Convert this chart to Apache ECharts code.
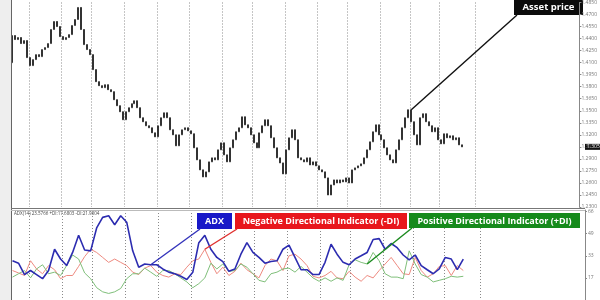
<!DOCTYPE html>
<html><head><meta charset="utf-8">
<script src="https://cdn.jsdelivr.net/npm/echarts@6/dist/echarts.min.js"></script>
<style>html,body{margin:0;padding:0;background:#fff}#c{width:600px;height:300px}</style>
</head><body><div id="c"></div>
<script>
// ---- data ----
const barCount = 191;            // visible bar slots on the time axis
const firstOpen = 1.4100;
const closes = [
1.4438,1.4388,1.4413,1.4338,1.4375,1.4163,1.4063,1.4138,1.4200,1.4175,
1.4263,1.4288,1.4338,1.4513,1.4613,1.4550,1.4425,1.4388,1.4413,1.4450,
1.4563,1.4638,1.4788,1.4513,1.4325,1.4263,1.4200,1.4013,1.3863,1.3813,
1.3788,1.3825,1.3763,1.3738,1.3638,1.3563,1.3488,1.3388,1.3488,1.3538,
1.3588,1.3625,1.3538,1.3413,1.3363,1.3313,1.3288,1.3225,1.3175,1.3313,
1.3413,1.3475,1.3413,1.3263,1.3200,1.3063,1.3200,1.3263,1.3288,1.3250,
1.3213,1.3038,1.2888,1.2763,1.2675,1.2738,1.2863,1.2913,1.2888,1.3013,
1.3100,1.2950,1.2863,1.3038,1.3138,1.3238,1.3288,1.3425,1.3325,1.3288,
1.3200,1.3100,1.3038,1.3225,1.3313,1.3388,1.3313,1.3163,1.3038,1.2913,
1.2850,1.2713,1.3013,1.3163,1.3263,1.3138,1.2913,1.2888,1.2863,1.2913,
1.2825,1.2863,1.2813,1.2763,1.2738,1.2663,1.2450,1.2575,1.2638,1.2600,
1.2638,1.2613,1.2663,1.2600,1.2763,1.2788,1.2813,1.2838,1.2913,1.3013,
1.3113,1.3238,1.3325,1.3200,1.3138,1.3038,1.2950,1.2888,1.2850,1.3013,
1.3138,1.3288,1.3413,1.3513,1.3363,1.3200,1.3075,1.3413,1.3463,1.3363,
1.3313,1.3238,1.3288,1.3138,1.3088,1.3213,1.3163,1.3188,1.3138,1.3163,
1.3075,1.3050];
// indicator values sampled every 2 bars
const adx = [29.3,27.5,19.0,22.0,19.0,15.9,22.0,37.9,30.6,25.7,
35.5,48.3,37.3,36.7,53.8,61.7,62.9,56.2,62.9,58.1,
36.7,24.5,26.9,26.3,26.3,23.2,20.8,19.6,17.7,15.3,
20.8,42.8,48.3,37.9,31.8,28.7,21.4,23.2,34.2,42.8,
35.5,31.8,27.5,28.7,29.3,37.9,41.0,31.8,22.6,22.6,
19.0,19.0,28.1,41.6,34.2,28.1,26.3,30.6,33.0,35.5,
45.2,45.8,37.9,42.2,39.1,33.6,30.0,33.6,25.7,22.6,
19.6,23.2,31.8,30.6,22.6,30.6];
const minusDI = [22.0,20.2,18.3,29.3,23.2,19.6,25.7,22.6,15.9,18.3,
18.3,25.1,32.4,37.9,35.5,31.8,28.1,30.6,28.1,25.7,
20.8,19.0,23.8,25.7,20.8,18.3,17.1,19.6,19.0,24.5,
29.3,30.6,37.9,28.1,19.6,24.5,18.3,21.4,27.5,22.6,
19.6,16.5,25.7,30.6,29.3,22.0,33.0,34.2,30.6,25.7,
17.7,16.5,18.3,21.4,16.5,15.9,21.4,17.1,14.0,18.3,
16.5,22.0,26.9,31.8,25.7,19.6,19.0,31.8,22.0,17.1,
19.6,25.1,25.7,18.3,25.7,22.0];
const plusDI = [17.1,19.6,22.0,16.5,23.2,26.3,19.6,20.8,18.3,25.7,
33.6,30.6,20.2,15.9,9.2,6.1,4.9,6.1,8.6,15.9,
19.6,19.6,23.8,20.8,17.7,22.0,22.0,19.6,16.5,13.5,
9.2,12.2,16.5,27.5,23.2,26.9,21.4,22.0,26.9,24.5,
19.6,14.7,13.5,19.6,20.8,23.2,23.8,20.8,25.1,20.8,
16.5,14.0,16.5,14.0,16.5,14.7,26.3,30.0,28.1,26.9,
35.5,29.3,19.6,17.1,17.1,15.9,36.7,26.9,19.0,17.1,
13.5,14.7,15.9,17.7,17.1,17.7];
const sampleStep = 2;
const separatorBars = [6,17,27,38,49,60,71,81,92,103,113,124,134,144,156];
const adxTickLabels = ['17','33','49','66'];
const adxTickStep = 16.5;
const headerText = 'ADX(14) 23.5766 +DI:17.6803 -DI:21.9804';
const labels = {asset:'Asset price', adx:'ADX', neg:'Negative Directional Indicator (-DI)', pos:'Positive Directional Indicator (+DI)'};

// ---- build ----
const categories = Array.from({length: barCount}, (_, i) => String(i));
const ohlc = closes.map((c, i) => {
  const o = i === 0 ? firstOpen : closes[i-1];
  return [o, c, Math.min(o, c), Math.max(o, c)];
});
const toPairs = arr => arr.map((v, k) => [k * sampleStep, v]);

const chart = echarts.init(document.getElementById('c'), null, {renderer: 'canvas'});
const sepLine = {show: true, interval: (i) => separatorBars.includes(i), lineStyle: {color: '#8a8a8a', type: [1, 2], width: 1}};
const font = '"Open Sans", "DejaVu Sans", sans-serif';

chart.setOption({
  animation: false,
  backgroundColor: '#fff',
  grid: [
    {left: 11, right: 15, top: 2, height: 205},
    {left: 11, right: 15, top: 210, height: 110}
  ],
  xAxis: [
    {type: 'category', gridIndex: 0, data: categories, boundaryGap: true,
     axisLine: {show: false}, axisTick: {show: false}, axisLabel: {show: false}, splitLine: sepLine},
    {type: 'category', gridIndex: 1, data: categories, boundaryGap: true,
     axisLine: {show: false}, axisTick: {show: false}, axisLabel: {show: false}, splitLine: sepLine}
  ],
  yAxis: [
    {type: 'value', gridIndex: 0, position: 'right', min: 1.23, max: 1.485, interval: 0.015,
     axisLine: {show: true, lineStyle: {color: '#888'}}, axisTick: {show: true, length: 2, lineStyle: {color: '#888'}},
     splitLine: {show: false},
     axisLabel: {fontSize: 5, color: '#777', margin: 2, fontFamily: font, formatter: v => v.toFixed(4)}},
    {type: 'value', gridIndex: 1, position: 'right', min: 0, max: 67.2, interval: adxTickStep,
     axisLine: {show: true, lineStyle: {color: '#888'}}, axisTick: {show: true, length: 2, lineStyle: {color: '#888'}},
     splitLine: {show: false},
     axisLabel: {fontSize: 5, color: '#777', margin: 3, fontFamily: font, showMaxLabel: false,
       formatter: v => { const i = Math.round(v / adxTickStep); return (i >= 1 && i <= adxTickLabels.length) ? adxTickLabels[i-1] : ''; }}}
  ],
  series: [
    {type: 'candlestick', xAxisIndex: 0, yAxisIndex: 0, data: ohlc, barWidth: 1.5,
     itemStyle: {color: '#ffffff', color0: '#333', borderColor: '#333', borderColor0: '#333', borderWidth: 1}},
    {type: 'line', xAxisIndex: 1, yAxisIndex: 1, data: toPairs(minusDI), symbol: 'none',
     lineStyle: {color: '#ee8a80', width: 1}, z: 3},
    {type: 'line', xAxisIndex: 1, yAxisIndex: 1, data: toPairs(plusDI), symbol: 'none',
     lineStyle: {color: '#7fbf7a', width: 1}, z: 3},
    {type: 'line', xAxisIndex: 1, yAxisIndex: 1, data: toPairs(adx), symbol: 'none',
     lineStyle: {color: '#2c2cb0', width: 1.6}, z: 4}
  ]
});

// ---- annotations ----
const P0 = (i, v) => chart.convertToPixel({xAxisIndex: 0, yAxisIndex: 0}, [i, v]);
const P1 = (i, v) => chart.convertToPixel({xAxisIndex: 1, yAxisIndex: 1}, [i, v]);
const assetPt = P0(133, closes[133]);
const adxPt = P1(23 * sampleStep, adx[23]);
const negPt = P1(32 * sampleStep, minusDI[32]);
const posPt = P1(59 * sampleStep, plusDI[59]);
const lastPt = P0(closes.length - 1, closes[closes.length - 1]);

function box(x, y, w, h, fill, text, fs) {
  return {type: 'group', z: 100, children: [
    {type: 'rect', shape: {x: x, y: y, width: w, height: h}, style: {fill: fill}},
    {type: 'text', style: {x: x + w / 2, y: y + h / 2 + 0.5, text: text, fill: '#fff', font: 'bold ' + fs + 'px ' + font, align: 'center', verticalAlign: 'middle'}}
  ]};
}
function seg(x1, y1, x2, y2, color) {
  return {type: 'line', z: 99, shape: {x1: x1, y1: y1, x2: x2, y2: y2}, style: {stroke: color, lineWidth: 1.4}};
}

chart.setOption({graphic: [
  {type: 'rect', z: 50, shape: {x: 0, y: 0, width: 11, height: 300}, style: {fill: '#eeeeee'}},
  {type: 'line', z: 51, shape: {x1: 11.5, y1: 0, x2: 11.5, y2: 300}, style: {stroke: '#666', lineWidth: 1}},
  {type: 'line', z: 51, shape: {x1: 11, y1: 208.5, x2: 585, y2: 208.5}, style: {stroke: '#777', lineWidth: 1}},
  {type: 'line', z: 51, shape: {x1: 11, y1: 210.5, x2: 585, y2: 210.5}, style: {stroke: '#bbb', lineWidth: 1}},
  {type: 'text', z: 60, style: {x: 14, y: 211, text: headerText, fill: '#444', font: '4.5px ' + font}},
  {type: 'group', z: 60, children: [
    {type: 'rect', shape: {x: 585, y: lastPt[1] - 3, width: 15, height: 6}, style: {fill: '#111'}},
    {type: 'text', style: {x: 587, y: lastPt[1], text: closes[closes.length - 1].toFixed(4), fill: '#fff', font: '5px ' + font, verticalAlign: 'middle'}}
  ]},
  seg(517, 15, assetPt[0] + 3, assetPt[1], '#111'),
  box(514, -1, 69, 16, '#0c0c0c', labels.asset, 9.5),
  seg(200, 229, adxPt[0], adxPt[1], '#3333bb'),
  box(197, 213, 35, 16, '#1818c8', labels.adx, 9),
  seg(237, 229, negPt[0], negPt[1], '#e0302e'),
  box(235, 213, 172, 16, '#e8161c', labels.neg, 9),
  seg(412, 228, posPt[0], posPt[1], '#1a8a1e'),
  box(409, 213, 171, 15, '#158a1b', labels.pos, 9)
]});
</script></body></html>
